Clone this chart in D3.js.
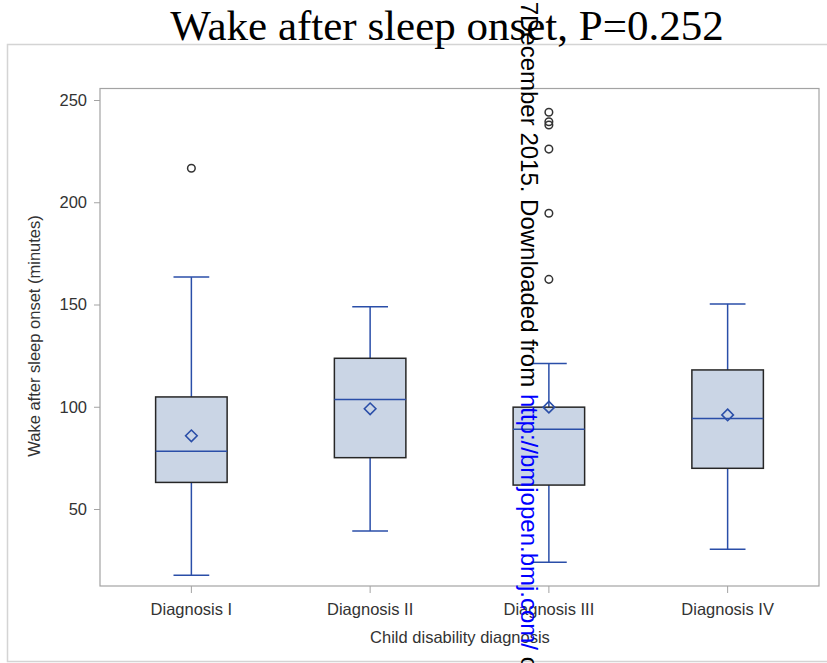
<!DOCTYPE html>
<html>
<head>
<meta charset="utf-8">
<script src="https://cdn.jsdelivr.net/npm/d3@7"></script>
<style>
  body { margin: 0; background: #fff; }
  text { font-family: "Liberation Sans", Arial, sans-serif; }
</style>
</head>
<body>
<svg id="chart" width="827" height="663"></svg>
<script>
// Wake after sleep onset by child disability diagnosis (minutes)
const categories   = ["Diagnosis I", "Diagnosis II", "Diagnosis III", "Diagnosis IV"];
const q1           = [63.0, 75.1, 61.7, 69.9];
const medians      = [78.2, 103.6, 89.0, 94.2];
const q3           = [104.8, 123.7, 99.8, 118.0];
const means        = [85.8, 99.0, 99.8, 96.0];
const whiskerLow   = [17.6, 39.2, 23.9, 30.3];
const whiskerHigh  = [163.4, 148.9, 121.2, 150.3];
const outliers     = [[216.6], [], [244.0, 239.4, 237.8, 226.0, 194.6, 162.3], []];
const yTicks       = [50, 100, 150, 200, 250];

const titleText  = "Wake after sleep onset, P=0.252";
const yLabelText = "Wake after sleep onset (minutes)";
const xLabelText = "Child disability diagnosis";

const svg = d3.select("#chart");

const plot = { left: 100, right: 819, top: 88.5, bottom: 586 };

const y = d3.scaleLinear().domain([50, 250]).range([509, 100]);
const x = d3.scaleBand().domain(categories).range([102, 817]).padding(0);
const cx = c => x(c) + x.bandwidth() / 2;
const boxW = x.bandwidth() * 0.4;
const capW = x.bandwidth() * 0.2;

const blue = "#2a4ea8";
const boxFill = "#cad5e5";
const axisGrey = "#a3a3a3";
const textGrey = "#333";
const labelSize = "16.5px";

// outer graph border
svg.append("path")
  .attr("d", "M827,44.5 H7.5 V661.5 H827")
  .attr("fill", "none").attr("stroke", "#d4d4d4").attr("stroke-width", 1.5);

// plot frame
svg.append("rect")
  .attr("x", plot.left).attr("y", plot.top)
  .attr("width", plot.right - plot.left).attr("height", plot.bottom - plot.top)
  .attr("fill", "none").attr("stroke", axisGrey).attr("stroke-width", 1.2);

// y axis
const yAxis = svg.append("g")
  .attr("transform", `translate(${plot.left},0)`)
  .call(d3.axisLeft(y).tickValues(yTicks).tickSize(6).tickPadding(7));
yAxis.select(".domain").remove();
yAxis.selectAll("line").attr("stroke", axisGrey);
yAxis.selectAll("text").attr("fill", textGrey).style("font-size", labelSize)
  .style("font-family", "'Liberation Sans', Arial, sans-serif");

// x axis
const xAxis = svg.append("g")
  .attr("transform", `translate(0,${plot.bottom})`)
  .call(d3.axisBottom(x).tickSize(7).tickPadding(10));
xAxis.select(".domain").remove();
xAxis.selectAll("line").attr("stroke", axisGrey);
xAxis.selectAll("text").attr("fill", textGrey).style("font-size", labelSize)
  .style("font-family", "'Liberation Sans', Arial, sans-serif");

// axis titles
svg.append("text")
  .attr("transform", `translate(40,336) rotate(-90)`)
  .attr("text-anchor", "middle").attr("fill", textGrey)
  .style("font-size", labelSize)
  .text(yLabelText);

svg.append("text")
  .attr("x", 460).attr("y", 643)
  .attr("text-anchor", "middle").attr("fill", textGrey)
  .style("font-size", labelSize)
  .text(xLabelText);

// boxes
const data = categories.map((c, i) => ({
  cat: c, q1: q1[i], med: medians[i], q3: q3[i], mean: means[i],
  lo: whiskerLow[i], hi: whiskerHigh[i], out: outliers[i]
}));

const g = svg.append("g");

const box = g.selectAll("g.box").data(data).join("g").attr("class", "box");

// whisker stems
box.append("line")
  .attr("x1", d => cx(d.cat)).attr("x2", d => cx(d.cat))
  .attr("y1", d => y(d.hi)).attr("y2", d => y(d.q3))
  .attr("stroke", blue).attr("stroke-width", 1.5);
box.append("line")
  .attr("x1", d => cx(d.cat)).attr("x2", d => cx(d.cat))
  .attr("y1", d => y(d.q1)).attr("y2", d => y(d.lo))
  .attr("stroke", blue).attr("stroke-width", 1.5);

// whisker caps
box.selectAll("line.cap").data(d => [d.hi, d.lo].map(v => ({ cat: d.cat, v })))
  .join("line").attr("class", "cap")
  .attr("x1", d => cx(d.cat) - capW / 2).attr("x2", d => cx(d.cat) + capW / 2)
  .attr("y1", d => y(d.v)).attr("y2", d => y(d.v))
  .attr("stroke", blue).attr("stroke-width", 1.5);

// interquartile box
box.append("rect")
  .attr("x", d => cx(d.cat) - boxW / 2).attr("width", boxW)
  .attr("y", d => y(d.q3)).attr("height", d => y(d.q1) - y(d.q3))
  .attr("fill", boxFill).attr("stroke", "#262626").attr("stroke-width", 1.5);

// median
box.append("line")
  .attr("x1", d => cx(d.cat) - boxW / 2).attr("x2", d => cx(d.cat) + boxW / 2)
  .attr("y1", d => y(d.med)).attr("y2", d => y(d.med))
  .attr("stroke", blue).attr("stroke-width", 1.5);

// mean marker
const diamond = d3.symbol().type(d3.symbolDiamond2).size(85);
box.append("path")
  .attr("d", diamond)
  .attr("transform", d => `translate(${cx(d.cat)},${y(d.mean)})`)
  .attr("fill", "none").attr("stroke", blue).attr("stroke-width", 1.6);

// outliers
box.selectAll("circle").data(d => d.out.map(v => ({ cat: d.cat, v })))
  .join("circle")
  .attr("cx", d => cx(d.cat)).attr("cy", d => y(d.v)).attr("r", 3.8)
  .attr("fill", "none").attr("stroke", "#333").attr("stroke-width", 1.5);

// title
svg.append("text")
  .attr("x", 447).attr("y", 40)
  .attr("text-anchor", "middle")
  .style("font-family", "'Liberation Serif', 'Times New Roman', serif")
  .style("font-size", "43px").attr("fill", "#000")
  .text(titleText);

// vertical download stamp
const stamp = svg.append("g").attr("transform", "translate(521,0) rotate(90)");
stamp.append("text")
  .attr("x", 15).attr("y", 0).attr("text-anchor", "end")
  .style("font-size", "24px").attr("fill", "#000")
  .text("on 7 ");
const st = stamp.append("text")
  .attr("x", 15).attr("y", 0)
  .style("font-size", "24px").attr("fill", "#000");
st.append("tspan").text("December 2015. Downloaded from ");
st.append("tspan").attr("fill", "#0000ff").text("http://bmjopen.bmj.com/");
st.append("tspan").text(" on April 18, 2024 by guest.");
</script>
</body>
</html>
